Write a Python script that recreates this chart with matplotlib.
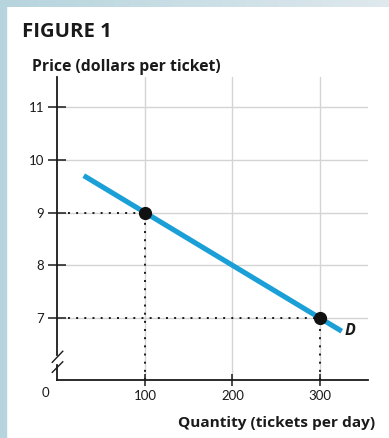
import matplotlib
matplotlib.use("Agg")
import matplotlib.pyplot as plt
from matplotlib.patches import Rectangle
from matplotlib.colors import LinearSegmentedColormap
import numpy as np

# Demand schedule
quantity_ticks = [100, 200, 300]
price_ticks = [7, 8, 9, 10, 11]
demand_q = [30, 325]
demand_p = [9.70, 6.75]
point_q = [100, 300]
point_p = [9, 7]

FONT = "Lato"
BOLD_FONT = "Open Sans"
TXT = "#1a1a1a"
BLUE = "#1a9fd6"

fig = plt.figure(figsize=(3.89, 4.38), dpi=100)
W, H = 389, 438

# Frame: pale blue strip on the left and a faded band along the top
fig.patches.append(Rectangle((0, 0), 6.5 / W, 1, transform=fig.transFigure,
                             color="#b6d4dd", zorder=0))
grad = np.linspace(0, 1, 256).reshape(1, -1)
band = fig.add_axes([0, 1 - 7 / H, 1, 7 / H])
cmap = LinearSegmentedColormap.from_list("band", ["#b6d4dd", "#dfe9ee"])
band.imshow(grad, aspect="auto", cmap=cmap, extent=[0, 1, 0, 1])
band.axis("off")

x0, x1 = 57.5, 368
y_top, y_bot = 77, 380
ax = fig.add_axes([x0 / W, (H - y_bot) / H, (x1 - x0) / W, (y_bot - y_top) / H])
ax.set_xlim(0, 355)
ax.set_ylim(5.825, 11.57)
ax.patch.set_alpha(0)

for s in ["top", "right", "left"]:
    ax.spines[s].set_visible(False)
ax.spines["bottom"].set_linewidth(1.3)
ax.spines["bottom"].set_color(TXT)

# Grid
grid_c = "#d4d4d4"
for q in quantity_ticks:
    ax.plot([q, q], [5.825, 11.57], color=grid_c, lw=1.0, zorder=1)
for p in price_ticks:
    ax.plot([0, 355], [p, p], color=grid_c, lw=1.0, zorder=1)

# Broken vertical axis
ax.plot([0, 0], [6.30, 11.57], color=TXT, lw=1.3, clip_on=False, zorder=3)
ax.plot([0, 0], [5.825, 6.11], color=TXT, lw=1.3, clip_on=False, zorder=3)
ax.plot([-6, 6], [6.16, 6.37], color=TXT, lw=1.0, clip_on=False, zorder=3)
ax.plot([-6, 6], [5.97, 6.17], color=TXT, lw=1.0, clip_on=False, zorder=3)

ax.set_xticks(quantity_ticks)
ax.set_xticklabels([str(q) for q in quantity_ticks])
ax.set_yticks(price_ticks)
ax.set_yticklabels(["7", "8", "9", "10", "11"])
ax.tick_params(axis="y", direction="inout", length=13, width=1.1, color=TXT,
               pad=3, labelsize=9.5, labelcolor=TXT)
ax.tick_params(axis="x", direction="inout", length=9, width=1.1, color=TXT,
               pad=3, labelsize=9.5, labelcolor=TXT)
for lab in ax.get_xticklabels() + ax.get_yticklabels():
    lab.set_fontfamily(FONT)

# Dotted guides from the price axis and down to the quantity axis
dot = dict(color=TXT, lw=1.4, linestyle=(0, (1, 3.2)), zorder=2)
for q, p in zip(point_q, point_p):
    ax.plot([12, q], [p, p], **dot)
    ax.plot([q, q], [5.825, p], **dot)

# Demand curve
ax.plot(demand_q, demand_p, color=BLUE, lw=3.7, solid_capstyle="butt", zorder=4)
ax.plot(point_q, point_p, "o", color="#111111", ms=8.5, zorder=5)
ax.text(328, 6.76, "D", fontfamily=BOLD_FONT, fontweight="bold", fontstyle="italic",
        fontsize=11.5, color=TXT, ha="left", va="center")

# Origin label
fig.text(45 / W, 1 - 393 / H, "0", fontfamily=FONT, fontsize=9.5, color=TXT,
         ha="center", va="center")

# Titles and axis labels
title = fig.text(22 / W, 1 - 32 / H, "FIGURE 1", fontfamily=BOLD_FONT,
                 fontweight="bold", fontsize=12, color=TXT, ha="left", va="center")
ylab = fig.text(32 / W, 1 - 67 / H, "Price (dollars per ticket)", fontfamily=BOLD_FONT,
                fontweight="bold", fontsize=10, color=TXT, ha="left", va="center")
xlab = fig.text(178 / W, 1 - 423 / H, "Quantity (tickets per day)", fontfamily=BOLD_FONT,
                fontweight="bold", fontsize=10, color=TXT, ha="left", va="center")

# Size headings to their intended widths in pixels
fig.canvas.draw()
renderer = fig.canvas.get_renderer()
for t, width in [(title, 89), (ylab, 188), (xlab, 197)]:
    w = t.get_window_extent(renderer).width
    t.set_fontsize(t.get_fontsize() * width / w)

fig.savefig("out.png", dpi=100)
